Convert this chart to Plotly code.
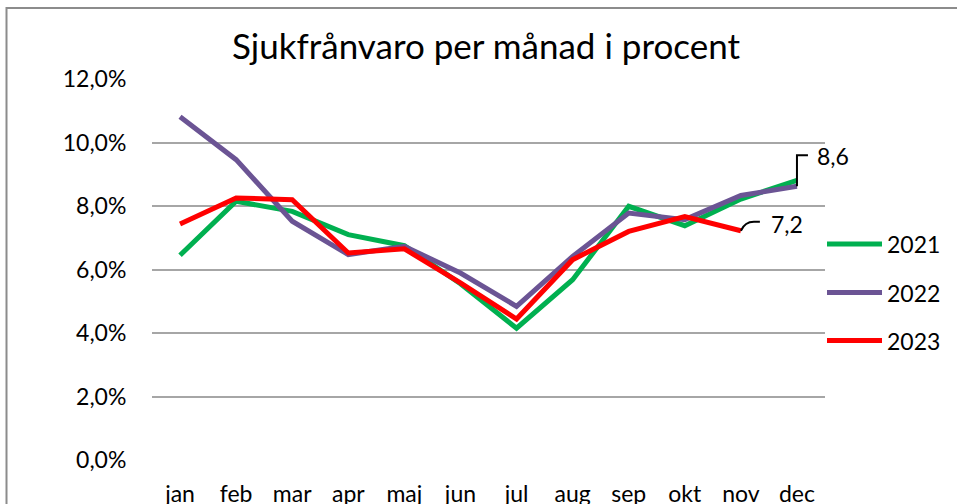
import plotly.graph_objects as go

months = ["jan", "feb", "mar", "apr", "maj", "jun", "jul", "aug", "sep", "okt", "nov", "dec"]
y2021 = [6.45, 8.15, 7.83, 7.10, 6.75, 5.55, 4.15, 5.68, 7.99, 7.38, 8.22, 8.81]
y2022 = [10.81, 9.46, 7.52, 6.47, 6.73, 5.89, 4.84, 6.41, 7.78, 7.57, 8.33, 8.62]
y2023 = [7.43, 8.25, 8.20, 6.52, 6.65, 5.58, 4.44, 6.31, 7.20, 7.67, 7.22]
series_names = ["2021", "2022", "2023"]
series_colors = ["#00B050", "#6B5494", "#FF0000"]
ytick_vals = [0, 2, 4, 6, 8, 10, 12]
ytick_text = ["0,0%", "2,0%", "4,0%", "6,0%", "8,0%", "10,0%", "12,0%"]
title_text = "Sjukfrånvaro per månad i procent"

FONT = "Lato"
FS = 23
W, H = 957, 504
ML, MR, MT, MB = 152, 132, 79, 44

fig = go.Figure()
all_series = [y2021, y2022, y2023]
for name, vals, col in zip(series_names, all_series, series_colors):
    fig.add_trace(go.Scatter(
        x=list(range(len(vals))), y=vals, mode="lines", name=name,
        line=dict(color=col, width=5), showlegend=False,
    ))

# manual legend
leg_y_px = [244, 292.5, 340.5]
pw = W - ML - MR
ph = H - MT - MB
for name, col, ypx in zip(series_names, series_colors, leg_y_px):
    yp = (H - MB - ypx) / ph
    x0 = (827 - ML) / pw
    x1 = (882 - ML) / pw
    fig.add_shape(type="line", xref="paper", yref="paper", x0=x0, x1=x1, y0=yp, y1=yp,
                  line=dict(color=col, width=5))
    fig.add_annotation(xref="paper", yref="paper", x=(885 - ML) / pw, y=yp, text=name,
                       showarrow=False, xanchor="left", yanchor="middle",
                       font=dict(family=FONT, size=FS, color="black"))

# data labels with leader lines
di = len(y2022) - 1
fig.add_shape(type="path", xref="x", yref="y", xsizemode="pixel", ysizemode="pixel",
              xanchor=di, yanchor=y2022[di], path="M0,0 L0,31 L11,31",
              line=dict(color="black", width=2))
fig.add_annotation(x=di, y=y2022[di], xref="x", yref="y", text=f"{y2022[di]:.1f}".replace(".", ","),
                   showarrow=False, xanchor="left", yanchor="middle", xshift=18, yshift=30,
                   font=dict(family=FONT, size=FS, color="black"))
ni = len(y2023) - 1
fig.add_shape(type="path", xref="x", yref="y", xsizemode="pixel", ysizemode="pixel",
              xanchor=ni, yanchor=y2023[ni], path="M0,0 Q4,9 13,9 L19,9",
              line=dict(color="black", width=2))
fig.add_annotation(x=ni, y=y2023[ni], xref="x", yref="y", text=f"{y2023[ni]:.1f}".replace(".", ","),
                   showarrow=False, xanchor="left", yanchor="middle", xshift=28, yshift=7,
                   font=dict(family=FONT, size=FS, color="black"))

# outer border
fig.add_shape(type="rect", xref="paper", yref="paper",
              x0=(6.5 - ML) / pw, x1=(965 - ML) / pw,
              y0=(H - MB - 515) / ph, y1=(H - MB - 8) / ph,
              line=dict(color="#8C8C8C", width=2), fillcolor="rgba(0,0,0,0)", layer="below")

fig.update_layout(
    width=W, height=H,
    margin=dict(l=ML, r=MR, t=MT, b=MB),
    paper_bgcolor="white", plot_bgcolor="white",
    title=dict(text=title_text, x=486 / W, xref="container", xanchor="center",
               y=1 - 47 / H, yref="container", yanchor="middle",
               font=dict(family=FONT, size=35, color="black")),
    xaxis=dict(tickvals=list(range(len(months))), ticktext=months, range=[-0.5, 11.5],
               showgrid=False, zeroline=False, showline=False, automargin=False,
               ticks="outside", ticklen=13, tickcolor="rgba(0,0,0,0)",
               tickfont=dict(family=FONT, size=FS, color="black")),
    yaxis=dict(tickvals=ytick_vals, ticktext=ytick_text, range=[0, 12],
               showgrid=True, gridcolor="#A6A6A6", gridwidth=2, zeroline=False, showline=False,
               automargin=False,
               ticks="outside", ticklen=20, tickcolor="rgba(0,0,0,0)",
               tickfont=dict(family=FONT, size=FS, color="black")),
)

fig.write_html("out.html", config={"displayModeBar": False},
               post_script="document.body.style.margin='0';document.body.style.overflow='hidden';")
